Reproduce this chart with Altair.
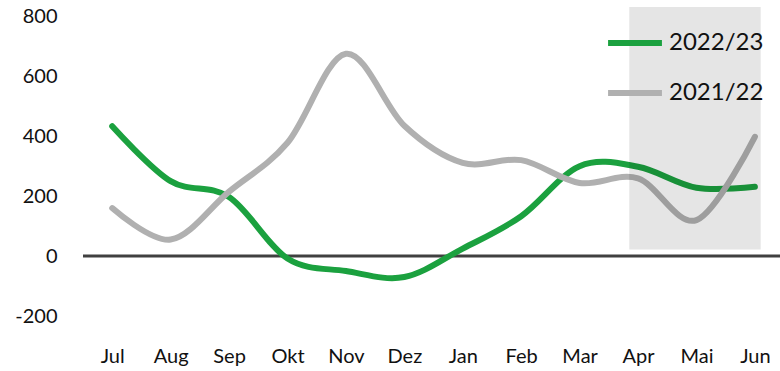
import altair as alt
import pandas as pd

months = ["Jul", "Aug", "Sep", "Okt", "Nov", "Dez", "Jan", "Feb", "Mar", "Apr", "Mai", "Jun"]
series_names = ["2022/23", "2021/22"]
v_2223 = [433, 250, 197, -8, -50, -70, 25, 133, 300, 298, 228, 231]
v_2122 = [160, 55, 215, 378, 675, 435, 311, 320, 244, 259, 120, 398]
y_ticks = [-200, 0, 200, 400, 600, 800]

# shaded period (Apr - Jun), in month-index units
shade_start = 8.85
shade_end = 11.1
shade_low = 22
shade_high = 831

rows = []
for i, m in enumerate(months):
    rows.append({"idx": i, "month": m, "series": series_names[0], "value": v_2223[i]})
    rows.append({"idx": i, "month": m, "series": series_names[1], "value": v_2122[i]})
df = pd.DataFrame(rows)

label_expr = "[" + ",".join(f"'{m}'" for m in months) + "][datum.value]"
y_label_expr = "datum.value < 0 ? '-' + abs(datum.value) : '' + datum.value"

x_scale = alt.Scale(domain=[-0.5, 11.43], nice=False, zero=False)
y_scale = alt.Scale(domain=[-200, 831], nice=False, zero=False)

FONT = "Lato"

lines = alt.Chart(df).mark_line(strokeWidth=6, interpolate="cardinal", strokeCap="round").encode(
    x=alt.X("idx:Q", scale=x_scale,
            axis=alt.Axis(values=list(range(12)), labelExpr=label_expr, title=None,
                          domain=False, ticks=False, grid=False, labelFontSize=20,
                          labelFont=FONT, labelColor="#111111", labelPadding=30,
                          labelFlush=False)),
    y=alt.Y("value:Q", scale=y_scale,
            axis=alt.Axis(values=y_ticks, labelExpr=y_label_expr, title=None, domain=False,
                          ticks=False, grid=False, labelFontSize=20, labelFont=FONT,
                          labelColor="#111111", labelPadding=26)),
    color=alt.Color("series:N",
                    scale=alt.Scale(domain=series_names, range=["#1BA13F", "#B0B0B0"]),
                    sort=series_names,
                    legend=alt.Legend(title=None, orient="none", legendX=522, legendY=6,
                                      symbolType="stroke", symbolSize=2900, symbolStrokeWidth=6,
                                      labelFontSize=24, labelFont=FONT, labelColor="#111111",
                                      labelOffset=4, rowPadding=8, padding=0)),
    order=alt.Order("series:N", sort="ascending"),
)

zero_df = pd.DataFrame({"value": [0]})
zero_line = alt.Chart(zero_df).mark_rule(color="#404040", strokeWidth=3).encode(
    y=alt.Y("value:Q", scale=y_scale)
)

shade_df = pd.DataFrame({"x0": [shade_start], "x1": [shade_end], "y0": [shade_low], "y1": [shade_high]})
shade = alt.Chart(shade_df).mark_rect(color="#000000", opacity=0.1).encode(
    x=alt.X("x0:Q", scale=x_scale),
    x2="x1:Q",
    y=alt.Y("y0:Q", scale=y_scale),
    y2="y1:Q",
)

chart = alt.layer(zero_line, lines, shade).properties(
    width=697, height=309,
    autosize=alt.AutoSizeParams(type="none"),
    padding={"left": 83, "top": 7, "right": 0, "bottom": 55},
).configure_view(stroke=None)

chart.save("out.html", embed_options={"renderer": "svg", "actions": False})
